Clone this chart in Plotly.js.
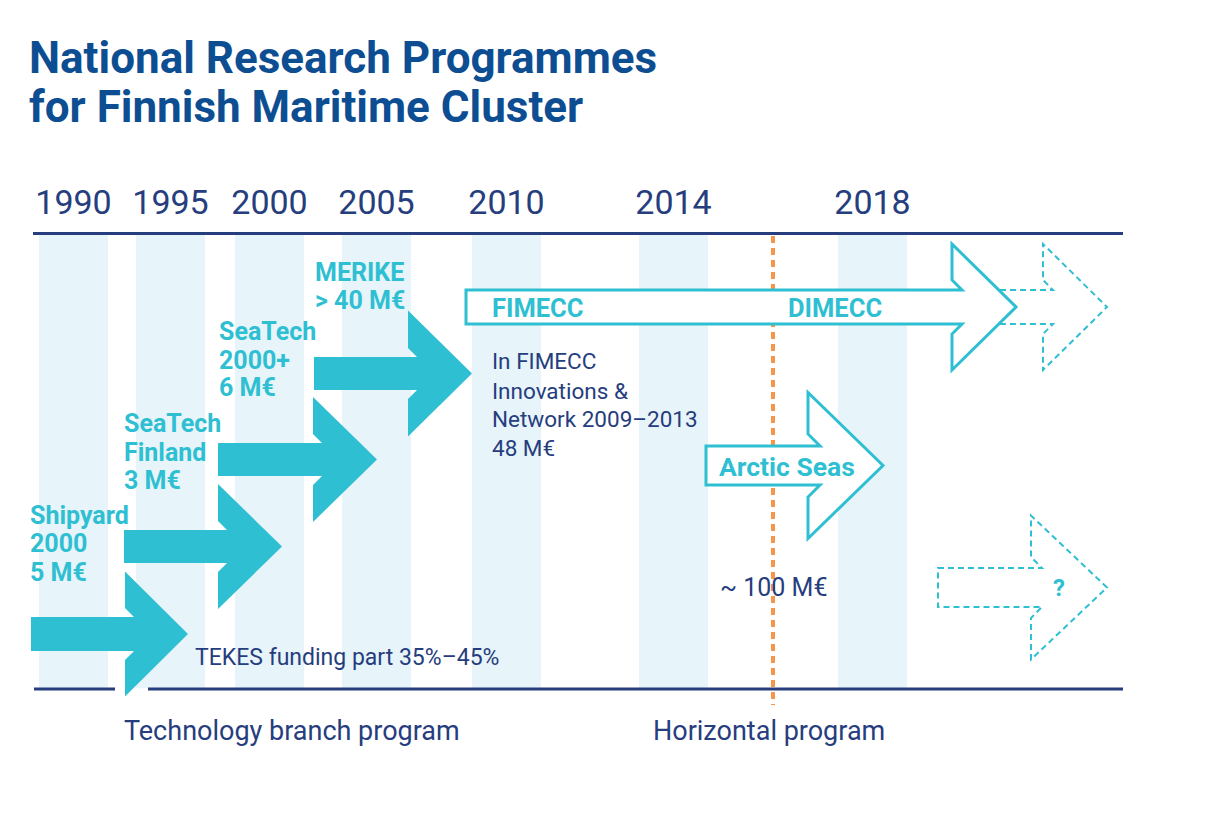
<!DOCTYPE html>
<html>
<head>
<meta charset="utf-8">
<script src="https://cdn.plot.ly/plotly-3.0.1.min.js"></script>
<style>html,body{margin:0;padding:0;background:#fff;}#chart{width:1207px;height:826px;}</style>
</head>
<body>
<div id="chart"></div>
<script>
// ---------- DATA ----------
const titleLines = ["National Research Programmes", "for Finnish Maritime Cluster"];
const years = ["1990", "1995", "2000", "2005", "2010", "2014", "2018"];
const techPrograms = ["Shipyard<br>2000", "SeaTech<br>Finland", "SeaTech<br>2000+", "MERIKE"];
const techFunding = ["5 M€", "3 M€", "6 M€", "> 40 M€"];
const horizontalPrograms = ["FIMECC", "DIMECC", "Arctic Seas", "?"];
const fimeccNote = ["In FIMECC", "Innovations &", "Network 2009–2013", "48 M€"];
const horizontalFunding = "~ 100 M€";
const tekesNote = "TEKES funding part 35%–45%";
const categoryLabels = ["Technology branch program", "Horizontal program"];

// ---------- LAYOUT (positions / sizes / styles) ----------
const W = 1207, H = 826;
const NAVY = "#263d7e", TITLE = "#0d4e93", CYAN = "#2fbfd2", STRIPE = "#e7f4fa", ORANGE = "#f6964a";
const FONT = 'Roboto, "DejaVu Sans", sans-serif';
const colLeft = [39, 136, 235, 342, 472, 639, 838];
const colW = 69;
const colCenters = colLeft.map(v => v + colW / 2);
const topLineY = 233, bottomLineY = 689, stripeTop = 235, stripeBottom = 688;

// tech arrows: x0 shaft start, xh head base, xt tip, yc centre, sh shaft half, hh head half
const techArrows = [
  {x0: 31,  xh: 125, xt: 188, yc: 634,   sh: 17,   hh: 62.5},
  {x0: 124, xh: 218, xt: 282, yc: 546.5, sh: 16.5, hh: 62.5},
  {x0: 218, xh: 313, xt: 377, yc: 459.5, sh: 16.5, hh: 62.5},
  {x0: 314, xh: 408, xt: 472, yc: 373.5, sh: 16.5, hh: 63}
];
const techLabelPos = [
  {x: 29,  ys: [515, 543, 572]},
  {x: 123, ys: [423, 452, 480]},
  {x: 218, ys: [331, 360, 387]},
  {x: 314, ys: [272, 300]}
];
const fimeccArrow = {x0: 466, xh: 952, xt: 1016, yc: 307, sh: 17, hh: 63};
const fimeccDashed = {x0: 1000, xh: 1043, xt: 1107, yc: 307, sh: 17, hh: 63};
const arcticArrow = {x0: 706, xh: 808, xt: 883, yc: 465.5, sh: 19.5, hh: 73};
const futureArrow = {x0: 938, xh: 1031, xt: 1107, yc: 587.5, sh: 19.5, hh: 72};
const horizLabelPos = [
  {x: 491, y: 308, anchor: "left", size: 25.5},
  {x: 787, y: 308, anchor: "left", size: 25.5},
  {x: 718, y: 466, anchor: "left", size: 26.5},
  {x: 1059, y: 588, anchor: "center", size: 24}
];

function arrowPath(a, c, open) {
  const p = [
    [a.x0, a.yc - a.sh], [a.xh + c, a.yc - a.sh], [a.xh, a.yc - a.sh - c], [a.xh, a.yc - a.hh],
    [a.xt, a.yc], [a.xh, a.yc + a.hh], [a.xh, a.yc + a.sh + c], [a.xh + c, a.yc + a.sh], [a.x0, a.yc + a.sh]
  ];
  return "M" + p.map(q => q[0] + "," + q[1]).join(" L") + (open ? "" : " Z");
}

const shapes = [];
// bottom line with gap
shapes.push({type: "line", xref: "x", yref: "y", x0: 34, x1: 115, y0: bottomLineY, y1: bottomLineY, line: {color: NAVY, width: 3}});
shapes.push({type: "line", xref: "x", yref: "y", x0: 148, x1: 1123, y0: bottomLineY, y1: bottomLineY, line: {color: NAVY, width: 3}});
// orange dashed "now" line
shapes.push({type: "line", xref: "x", yref: "y", x0: 773, x1: 773, y0: topLineY + 3, y1: 705, line: {color: ORANGE, width: 4, dash: "7px,5px"}});
// tech arrows
techArrows.forEach(a => shapes.push({type: "path", xref: "x", yref: "y", path: arrowPath(a, 9), fillcolor: CYAN, line: {width: 0}}));
// FIMECC dashed continuation then solid outline arrow
shapes.push({type: "path", xref: "x", yref: "y", path: arrowPath(fimeccDashed, 10, true), line: {color: CYAN, width: 2, dash: "6px,4px"}});
shapes.push({type: "path", xref: "x", yref: "y", path: arrowPath(fimeccArrow, 10), fillcolor: "#ffffff", line: {color: CYAN, width: 3}});
// Arctic Seas
shapes.push({type: "path", xref: "x", yref: "y", path: arrowPath(arcticArrow, 12), fillcolor: "#ffffff", line: {color: CYAN, width: 3}});
// future "?"
shapes.push({type: "path", xref: "x", yref: "y", path: arrowPath(futureArrow, 11), line: {color: CYAN, width: 2, dash: "6px,4px"}});

const annotations = [];
function ann(text, x, y, size, color, weight, xanchor) {
  annotations.push({text: text, x: x, y: y, xref: "x", yref: "y", xanchor: xanchor || "left", yanchor: "middle",
    showarrow: false, borderpad: 0, align: "left", font: {family: FONT, size: size, color: color, weight: weight || 400}});
}
ann(titleLines[0], 28, 58, 44, TITLE, 700);
ann(titleLines[1], 28, 107, 44, TITLE, 700);
techPrograms.forEach((name, i) => {
  const lines = name.split("<br>").concat([techFunding[i]]);
  lines.forEach((ln, j) => ann(ln, techLabelPos[i].x, techLabelPos[i].ys[j], 25, CYAN, 700));
});
horizontalPrograms.forEach((name, i) => {
  const p = horizLabelPos[i];
  ann(name, p.x, p.y, p.size, CYAN, 700, p.anchor);
});
const noteYs = [361, 391, 419, 448];
fimeccNote.forEach((ln, j) => ann(ln, 491, noteYs[j], 22.5, NAVY, 400));
ann(horizontalFunding, 719, 587, 25, NAVY, 400);
ann(tekesNote, 194, 657, 23, NAVY, 400);
ann(categoryLabels[0], 123, 731, 27, NAVY, 400);
ann(categoryLabels[1], 652, 731, 27, NAVY, 400);

const traces = [
  { // year column stripes
    type: "bar", x: colCenters, y: colCenters.map(() => stripeBottom - stripeTop), base: stripeTop,
    width: colW, marker: {color: STRIPE, line: {width: 0}}, hoverinfo: "skip", xaxis: "x", yaxis: "y", showlegend: false
  },
  { // anchor trace for the year axis
    type: "scatter", mode: "markers", x: [colCenters[0]], y: [topLineY], xaxis: "x2", yaxis: "y",
    marker: {opacity: 0}, hoverinfo: "skip", showlegend: false
  }
];

const layout = {
  width: W, height: H, margin: {l: 0, r: 0, t: 0, b: 0},
  paper_bgcolor: "#ffffff", plot_bgcolor: "rgba(0,0,0,0)", showlegend: false, bargap: 0,
  xaxis: {range: [0, W], domain: [0, 1], visible: false, fixedrange: true},
  yaxis: {range: [H, 0], domain: [0, 1], visible: false, fixedrange: true},
  xaxis2: {
    range: [33, 1123], domain: [33 / W, 1123 / W], anchor: "free", position: 1 - topLineY / H, side: "top",
    showline: true, linecolor: NAVY, linewidth: 3, showgrid: false, zeroline: false, ticks: "",
    tickmode: "array", tickvals: colCenters, ticktext: years, ticklabelstandoff: 4,
    tickfont: {family: FONT, size: 34, color: NAVY}, fixedrange: true
  },
  shapes: shapes, annotations: annotations
};

Plotly.newPlot("chart", traces, layout, {staticPlot: true, displayModeBar: false});
</script>
</body>
</html>
